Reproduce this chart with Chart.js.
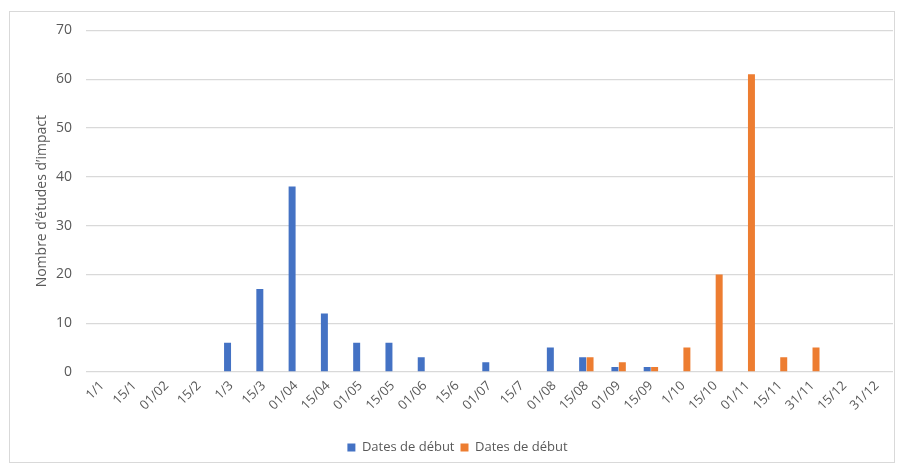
<!DOCTYPE html>
<html>
<head>
<meta charset="utf-8">
<script src="https://cdn.jsdelivr.net/npm/chart.js@4"></script>
<style>
  body { margin: 0; background: #fff; }
  .frame {
    position: absolute; left: 9px; top: 11px;
    width: 884px; height: 450px;
    border: 1px solid #d9d9d9;
  }
  .wrap { position: absolute; left: 0; top: 8px; width: 898px; height: 456px; }
</style>
</head>
<body>
<div class="frame"></div>
<div class="wrap"><canvas id="impactChart"></canvas></div>
<script>
// categories (dates)
var dates = ['1/1', '15/1', '01/02', '15/2', '1/3', '15/3', '01/04', '15/04', '01/05', '15/05',
  '01/06', '15/6', '01/07', '15/7', '01/08', '15/08', '01/09', '15/09', '1/10', '15/10',
  '01/11', '15/11', '31/11', '15/12', '31/12'];

// first series (blue)
var debutBleu = [0, 0, 0, 0, 6, 17, 38, 12, 6, 6, 3, 0, 2, 0, 5, 3, 1, 1, 0, 0, 0, 0, 0, 0, 0];

// second series (orange)
var debutOrange = [0, 0, 0, 0, 0, 0, 0, 0, 0, 0, 0, 0, 0, 0, 0, 3, 2, 1, 5, 20, 61, 3, 5, 0, 0];

var yTicks = [0, 10, 20, 30, 40, 50, 60, 70];

var grey = '#595959';
var font = { family: 'Open Sans', size: 13 };

var ctx = document.getElementById('impactChart');
var chart = new Chart(ctx, {
  type: 'bar',
  data: {
    labels: dates,
    datasets: [{
        label: 'Dates de début',
        data: debutBleu,
        backgroundColor: '#4472c4',
        categoryPercentage: 0.46,
        barPercentage: 0.94
      },
      {
        label: 'Dates de début',
        data: debutOrange,
        backgroundColor: '#ed7d31',
        categoryPercentage: 0.46,
        barPercentage: 0.94
      }
    ]
  },
  options: {
    responsive: true,
    maintainAspectRatio: false,
    animation: false,
    layout: {
      padding: { left: 22, right: 5, top: 0, bottom: 0 }
    },
    scales: {
      x: {
        grid: { display: false, drawTicks: false },
        border: { display: false },
        ticks: {
          color: grey, font: font, minRotation: 45, maxRotation: 45,
          autoSkip: false, padding: 6
        },
        afterFit: function (scale) { scale.height = 63; }
      },
      y: {
        min: 0,
        max: 70,
        afterBuildTicks: function (scale) {
          scale.ticks = yTicks.map(function (v) { return { value: v }; });
        },
        grid: { color: '#d9d9d9', lineWidth: 1.3, drawTicks: false },
        border: { display: false },
        ticks: { color: grey, font: { family: 'Open Sans', size: 14 }, padding: 14 },
        title: {
          display: true,
          text: 'Nombre d\u2019études d\u2019impact',
          color: grey,
          font: { family: 'Open Sans', size: 14 },
          padding: { top: 12, bottom: 0 }
        },
        afterFit: function (scale) { scale.width = 64; }
      }
    },
    plugins: {
      legend: {
        position: 'bottom',
        labels: {
          color: grey, font: font, boxWidth: 8, boxHeight: 8,
          padding: 6
        }
      },
      tooltip: { enabled: false }
    }
  }
});
</script>
</body>
</html>
